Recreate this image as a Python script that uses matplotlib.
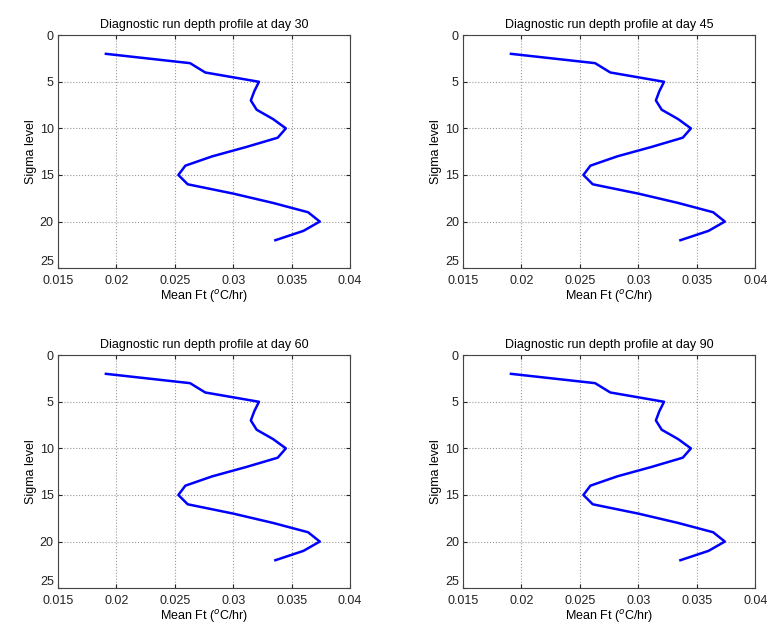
import matplotlib
matplotlib.use('Agg')
import matplotlib.pyplot as plt

# sigma levels and mean Ft profiles
sigma = [2, 3, 4, 5, 6, 7, 8, 9, 10, 11, 12, 13, 14, 15, 16, 17, 18, 19, 20, 21, 22]
ft_day30 = [0.0191, 0.0263, 0.0276, 0.0322, 0.0318, 0.0315, 0.0320, 0.0334, 0.0345, 0.0338,
            0.0311, 0.0282, 0.0259, 0.0253, 0.0261, 0.0300, 0.0334, 0.0364, 0.0374, 0.0360, 0.0336]
ft_day45 = [0.0191, 0.0263, 0.0276, 0.0322, 0.0318, 0.0315, 0.0320, 0.0334, 0.0345, 0.0338,
            0.0311, 0.0282, 0.0259, 0.0253, 0.0261, 0.0300, 0.0334, 0.0364, 0.0374, 0.0360, 0.0336]
ft_day60 = [0.0191, 0.0263, 0.0276, 0.0322, 0.0318, 0.0315, 0.0320, 0.0334, 0.0345, 0.0338,
            0.0311, 0.0282, 0.0259, 0.0253, 0.0261, 0.0300, 0.0334, 0.0364, 0.0374, 0.0360, 0.0336]
ft_day90 = [0.0191, 0.0263, 0.0276, 0.0322, 0.0318, 0.0315, 0.0320, 0.0334, 0.0345, 0.0338,
            0.0311, 0.0282, 0.0259, 0.0253, 0.0261, 0.0300, 0.0334, 0.0364, 0.0374, 0.0360, 0.0336]
days = [30, 45, 60, 90]
profiles = [ft_day30, ft_day45, ft_day60, ft_day90]

xticks = [0.015, 0.02, 0.025, 0.03, 0.035, 0.04]
xticklabels = ['0.015', '0.02', '0.025', '0.03', '0.035', '0.04']
yticks = [0, 5, 10, 15, 20, 25]

plt.rcParams['font.family'] = ['Liberation Sans', 'DejaVu Sans']
plt.rcParams['font.size'] = 9

fig = plt.figure(figsize=(7.73, 6.40), dpi=100)
# [left, bottom, width, height] for each panel
boxes = [[0.075, 0.581, 0.378, 0.364],
         [0.599, 0.581, 0.378, 0.364],
         [0.075, 0.081, 0.378, 0.364],
         [0.599, 0.081, 0.378, 0.364]]

for box, day, ft in zip(boxes, days, profiles):
    ax = fig.add_axes(box)
    ax.plot(ft, sigma, color='#0000ff', lw=1.8)
    ax.set_xlim(0.015, 0.04)
    ax.set_ylim(25, 0)
    ax.set_xticks(xticks)
    ax.set_xticklabels(xticklabels)
    ax.set_yticks(yticks)
    ax.grid(True, linestyle=':', color='#999999', lw=0.8)
    ax.tick_params(direction='in', top=True, right=True, length=3, colors='#222222', labelsize=9)
    ax.tick_params(axis='x', pad=5)
    ax.tick_params(axis='y', pad=3)
    # bottom y label sits a little higher so it clears the 0.015 label
    ax.get_yticklabels()[-1].set_verticalalignment('bottom')
    for s in ax.spines.values():
        s.set_color('#444444')
        s.set_linewidth(0.8)
    ax.set_title('Diagnostic run depth profile at day %d' % day, fontsize=9, pad=5)
    ax.set_xlabel('Mean Ft ($^{o}$C/hr)', fontsize=9, labelpad=1)
    ax.set_ylabel('Sigma level', fontsize=9, labelpad=2)

fig.savefig('out.png', dpi=100)
